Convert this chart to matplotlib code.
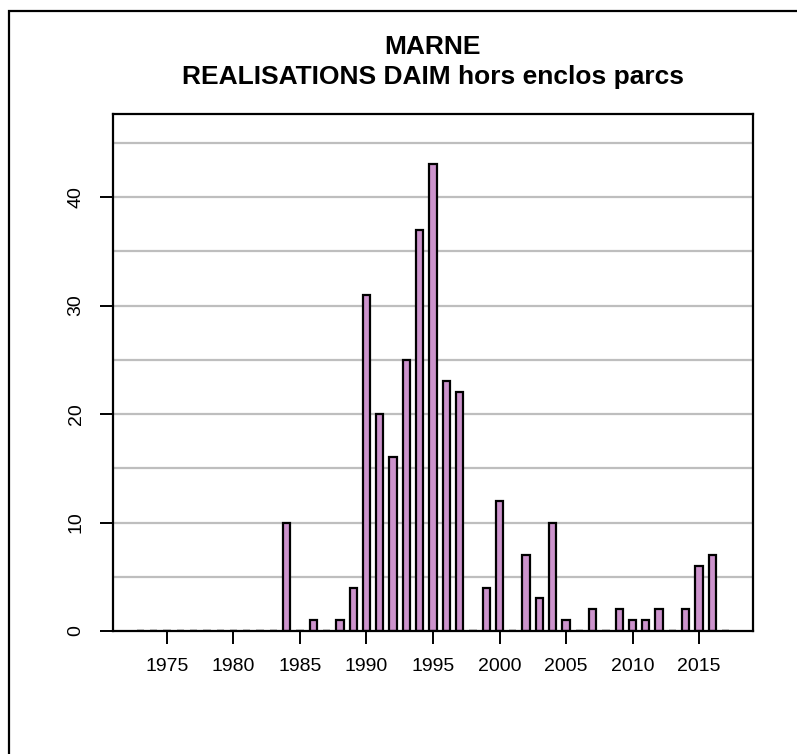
import numpy as np
import matplotlib.pyplot as plt
from matplotlib.patches import Rectangle

plt.rcParams['font.family'] = ['Liberation Sans', 'DejaVu Sans']

# yearly counts, 1973-2017
years = list(range(1973, 2018))
counts = [0, 0, 0, 0, 0, 0, 0, 0, 0, 0, 0,   # 1973-1983
          10, 0, 1, 0, 1, 4,                 # 1984-1989
          31, 20, 16, 25, 37, 43, 23, 22, 0, 4,   # 1990-1999
          12, 0, 7, 3, 10, 1, 0, 2, 0, 2,         # 2000-2009
          1, 1, 2, 0, 2, 6, 7, 0]                 # 2010-2017
xticks = [1975, 1980, 1985, 1990, 1995, 2000, 2005, 2010, 2015]
yticks = [0, 10, 20, 30, 40]
title = "MARNE\nREALISATIONS DAIM hors enclos parcs"

fig = plt.figure(figsize=(7.97, 7.54), dpi=100)
ax = fig.add_axes([113/797, 1-631/754, (753-113)/797, (631-114)/754])

# grid every 5
for g in np.arange(5, 50, 5):
    ax.axhline(g, color='#bebebe', lw=1.6, zorder=0)

ax.bar(years, counts, width=0.55, color='#cc93cc', edgecolor='black', linewidth=1.6, zorder=2)
# zero-height bars show as short black dashes
zero_years = [y for y, c in zip(years, counts) if c == 0]
for y in zero_years:
    ax.plot([y-0.275, y+0.275], [0, 0], color='black', lw=1.6, zorder=3, solid_capstyle='butt')

ax.set_xlim(1970.94, 2019.06)
ax.set_ylim(0, 47.65)
ax.set_xticks(xticks)
ax.set_yticks(yticks)
ax.set_yticklabels([str(v) for v in yticks], rotation=90, va='center')
ax.tick_params(axis='both', length=9.5, width=1.4, labelsize=14)
ax.tick_params(axis='x', pad=10)
ax.tick_params(axis='y', pad=11)
for s in ax.spines.values():
    s.set_linewidth(1.6)

fig.text(433/797, 1-62/754, title, ha='center', va='center', fontsize=19,
         fontweight='bold', linespacing=1.3)

# outer frame
fig.add_artist(Rectangle((9/797, -0.1), 1.2, 1.1-11/754, transform=fig.transFigure,
                         fill=False, lw=1.6, color='black'))

fig.savefig('out.png', dpi=100)
